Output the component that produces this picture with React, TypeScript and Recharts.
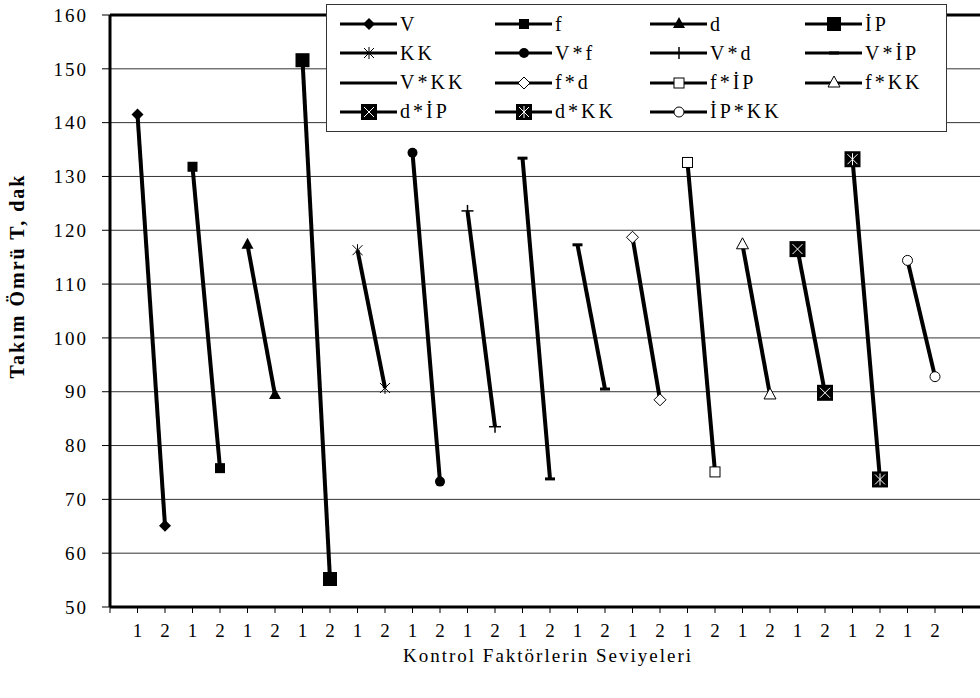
import { LineChart, Line, XAxis, YAxis, CartesianGrid, ReferenceLine } from "recharts";

// kontrol faktörleri ve seviye ortalamaları
const factorNames = ["V", "f", "d", "İP", "KK", "V*f", "V*d", "V*İP", "V*KK", "f*d", "f*İP", "f*KK", "d*İP", "d*KK", "İP*KK"];
const level1Values = [141.5, 131.8, 117.3, 151.6, 116.3, 134.4, 123.6, 133.4, 117.3, 118.7, 132.6, 117.3, 116.5, 133.2, 114.4];
const level2Values = [65.1, 75.8, 89.4, 55.2, 90.7, 73.3, 83.5, 73.8, 90.5, 88.5, 75.1, 89.4, 89.8, 73.7, 92.8];
const levelLabels = ["1", "2"];
const markerKinds = ["diamond", "square", "triangle", "bigSquare", "star", "circle", "plus", "dash", "dash", "openDiamond", "openSquare", "openTriangle", "boxX", "boxStar", "openCircle"];
const yTicks = [50, 60, 70, 80, 90, 100, 110, 120, 130, 140, 150, 160];

const FONT = "Liberation Serif";

// her faktör iki ardışık x noktasında (seviye 1 ve 2)
const rows: Record<string, number>[] = [];
for (let i = 0; i < factorNames.length * 2; i++) rows.push({ x: i + 1 });
factorNames.forEach((_, i) => {
  rows[2 * i][`s${i}`] = level1Values[i];
  rows[2 * i + 1][`s${i}`] = level2Values[i];
});
const xTicks = Array.from({ length: rows.length + 2 }, (_, i) => i);

function Marker({ kind, cx, cy }: { kind: string; cx: number; cy: number }) {
  switch (kind) {
    case "diamond":
      return <polygon points={`${cx},${cy - 6} ${cx + 6},${cy} ${cx},${cy + 6} ${cx - 6},${cy}`} fill="#000" />;
    case "square":
      return <rect x={cx - 5} y={cy - 5} width={10} height={10} fill="#000" />;
    case "triangle":
      return <polygon points={`${cx},${cy - 7} ${cx + 6},${cy + 4} ${cx - 6},${cy + 4}`} fill="#000" />;
    case "bigSquare":
      return <rect x={cx - 7} y={cy - 7} width={14} height={14} fill="#000" />;
    case "star":
      return (
        <g stroke="#000" strokeWidth={1}>
          <line x1={cx} y1={cy - 6} x2={cx} y2={cy + 6} />
          <line x1={cx - 5} y1={cy - 5} x2={cx + 5} y2={cy + 5} />
          <line x1={cx - 5} y1={cy + 5} x2={cx + 5} y2={cy - 5} />
        </g>
      );
    case "circle":
      return <circle cx={cx} cy={cy} r={5} fill="#000" />;
    case "plus":
      return (
        <g stroke="#000" strokeWidth={1.5}>
          <line x1={cx - 6} y1={cy} x2={cx + 6} y2={cy} />
          <line x1={cx} y1={cy - 6} x2={cx} y2={cy + 6} />
        </g>
      );
    case "dash":
      return <rect x={cx - 5} y={cy - 1.5} width={10} height={3} fill="#000" />;
    case "openDiamond":
      return <polygon points={`${cx},${cy - 6} ${cx + 6},${cy} ${cx},${cy + 6} ${cx - 6},${cy}`} fill="#fff" stroke="#000" strokeWidth={1} />;
    case "openSquare":
      return <rect x={cx - 5} y={cy - 5} width={10} height={10} fill="#fff" stroke="#000" strokeWidth={1} />;
    case "openTriangle":
      return <polygon points={`${cx},${cy - 7} ${cx + 6},${cy + 4} ${cx - 6},${cy + 4}`} fill="#fff" stroke="#000" strokeWidth={1} />;
    case "boxX":
      return (
        <g>
          <rect x={cx - 8} y={cy - 8} width={16} height={16} fill="#000" />
          <g stroke="#fff" strokeWidth={1}>
            <line x1={cx - 5} y1={cy - 5} x2={cx + 5} y2={cy + 5} />
            <line x1={cx - 5} y1={cy + 5} x2={cx + 5} y2={cy - 5} />
          </g>
        </g>
      );
    case "boxStar":
      return (
        <g>
          <rect x={cx - 8} y={cy - 8} width={16} height={16} fill="#000" />
          <g stroke="#fff" strokeWidth={1}>
            <line x1={cx} y1={cy - 6} x2={cx} y2={cy + 6} />
            <line x1={cx - 5} y1={cy - 5} x2={cx + 5} y2={cy + 5} />
            <line x1={cx - 5} y1={cy + 5} x2={cx + 5} y2={cy - 5} />
          </g>
        </g>
      );
    case "openCircle":
      return <circle cx={cx} cy={cy} r={5} fill="#fff" stroke="#000" strokeWidth={1} />;
    default:
      return null;
  }
}

function LegendBox() {
  return (
    <div
      style={{
        position: "absolute",
        left: 326,
        top: 4,
        width: 619,
        height: 126,
        border: "1px solid #333",
        background: "#fff",
        fontFamily: FONT,
        fontSize: 20,
      }}
    >
      {factorNames.map((name, i) => {
        const col = i % 4;
        const row = Math.floor(i / 4);
        return (
          <div
            key={name}
            style={{ position: "absolute", left: 12 + col * 155, top: 19 + row * 29.3 - 12, height: 24, display: "flex", alignItems: "center" }}
          >
            <svg width={60} height={24}>
              <line x1={1} y1={12} x2={58} y2={12} stroke="#000" strokeWidth={3} />
              {name !== "V*KK" && <Marker kind={markerKinds[i]} cx={30} cy={12} />}
            </svg>
            <span style={{ marginLeft: 1, letterSpacing: 3 }}>{name}</span>
          </div>
        );
      })}
    </div>
  );
}

export default function App() {
  return (
    <div style={{ position: "absolute", left: 0, top: 0, width: 980, height: 698, overflow: "hidden", background: "#fff" }}>
      <LineChart width={1000} height={698} data={rows} margin={{ top: 15, right: 10, bottom: 61, left: 0 }}>
        <CartesianGrid horizontal vertical={false} stroke="#333" strokeWidth={1} />
        <ReferenceLine y={160} stroke="#000" strokeWidth={3} />
        <XAxis
          type="number"
          dataKey="x"
          domain={[0, 32]}
          ticks={xTicks}
          interval={0}
          allowDataOverflow
          height={30}
          tickSize={6}
          tickMargin={11}
          axisLine={{ stroke: "#000", strokeWidth: 3 }}
          tickLine={{ stroke: "#000" }}
          tick={{ fill: "#000", fontFamily: FONT, fontSize: 19 }}
          tickFormatter={(v: number) => (v >= 1 && v <= rows.length ? levelLabels[(v - 1) % 2] : "")}
          label={{
            content: () => (
              <text x={548} y={662} textAnchor="middle" fontFamily={FONT} fontSize={19} letterSpacing={2} fill="#000">
                Kontrol Faktörlerin Seviyeleri
              </text>
            ),
          }}
        />
        <YAxis
          domain={[50, 160]}
          ticks={yTicks}
          interval={0}
          width={110}
          tickSize={8}
          tickMargin={14}
          axisLine={{ stroke: "#000", strokeWidth: 3 }}
          tickLine={{ stroke: "#000" }}
          tick={{ fill: "#000", fontFamily: FONT, fontSize: 19, letterSpacing: 2 }}
          label={{
            content: () => (
              <text
                x={19}
                y={276}
                transform="rotate(-90 19 276)"
                textAnchor="middle"
                dominantBaseline="middle"
                fontFamily={FONT}
                fontSize={20}
                letterSpacing={2}
                fontWeight="bold"
                fill="#000"
              >
                Takım Ömrü T, dak
              </text>
            ),
          }}
        />
        {factorNames.map((name, i) => (
          <Line
            key={name}
            name={name}
            dataKey={`s${i}`}
            stroke="#000"
            strokeWidth={4}
            connectNulls={false}
            isAnimationActive={false}
            activeDot={false}
            dot={(p: any) =>
              p.cy == null || Number.isNaN(p.cy) ? (
                <g key={p.key} />
              ) : (
                <g key={p.key}>
                  <Marker kind={markerKinds[i]} cx={p.cx} cy={p.cy} />
                </g>
              )
            }
          />
        ))}
      </LineChart>
      <LegendBox />
    </div>
  );
}
